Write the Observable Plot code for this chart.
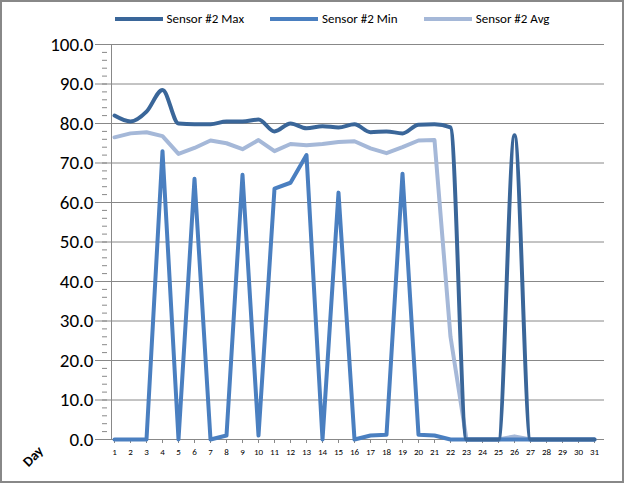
<!DOCTYPE html>
<html><head><meta charset="utf-8">
<script src="https://cdn.jsdelivr.net/npm/d3@7"></script>
<script src="https://cdn.jsdelivr.net/npm/@observablehq/plot@0.6"></script>
<style>
body{margin:0;background:#fff;font-family:Calibri,Carlito,"Liberation Sans",sans-serif;}
#wrap{position:relative;width:620px;height:479px;border:2px solid #888;background:#fff;}
#legend{height:33px;display:flex;justify-content:center;gap:26px;align-items:center;font-size:13px;padding-left:40px}
.it{display:flex;align-items:center;gap:4px}
.sw{width:48px;height:4px}
#day{position:absolute;left:20px;top:446px;transform:rotate(-45deg);font-size:14px;font-weight:bold}
svg{overflow:visible}
</style></head><body>
<div id="wrap"><div id="legend"></div><div id="chart"></div><div id="day">Day</div></div>
<script>
const days = d3.range(1, 32);
const maxV = [82,80.5,83,88.5,80,79.8,79.8,80.5,80.5,81,78,80,78.8,79.3,79,79.8,77.8,78,77.5,79.7,79.8,79,0,0,0,77,0,0,0,0,0];
const minV = [0,0,0,73,0,66,0,1,67,1,63.5,65,72,0,62.5,0,1,1.2,67.3,1.2,1,0,0,0,0,0,0,0,0,0,0];
const avgV = [76.5,77.5,77.8,76.8,72.3,73.8,75.7,75,73.5,75.8,73,74.8,74.5,74.8,75.3,75.5,73.7,72.5,74,75.7,75.8,26,0,0,0,0.8,0,0,0,0,0];
const series = [
  {name:"Sensor #2 Max", vals:maxV, color:"#3a6699", curve:"monotone-x"},
  {name:"Sensor #2 Min", vals:minV, color:"#4a7fc0", curve:"linear"},
  {name:"Sensor #2 Avg", vals:avgV, color:"#a5b8d8", curve:"linear"}
];
d3.select("#legend").selectAll("div").data(series).join("div").attr("class","it")
  .html(s => `<span class="sw" style="background:${s.color}"></span><span>${s.name}</span>`);

const chart = Plot.plot({
  width: 620, height: 446,
  marginLeft: 101, marginRight: 18, marginTop: 9, marginBottom: 42,
  style: {fontFamily: "Calibri,Carlito,'Liberation Sans',sans-serif", background: "#fff", overflow: "visible"},
  x: {type: "point", domain: days, padding: 0.15, label: null},
  y: {domain: [0, 100], label: null},
  marks: [
    Plot.ruleY(d3.range(10, 101, 10), {stroke: "#888", strokeWidth: 1}),
    Plot.axisY({ticks: d3.range(0, 101, 10), tickFormat: d => d.toFixed(1), fontSize: 19, tickSize: 8, stroke: "#888", color: "#000", tickPadding: 2}),
    Plot.axisY({ticks: d3.range(0, 101, 2), tickFormat: () => "", tickSize: 5, stroke: "#888", dx: 4}),
    Plot.ruleX([1], {y1: 0, y2: 100, stroke: "#888", dx: -3}),
    Plot.axisX({fontSize: 9, tickSize: 4, stroke: "#888", color: "#000"}),
    Plot.ruleY([0], {stroke: "#888"}),
    ...series.slice().reverse().map(s => Plot.line(days, {x: d => d, y: (d, i) => s.vals[i], stroke: s.color, strokeWidth: 4, curve: s.curve}))
  ]
});
d3.select("#chart").append(() => chart);
</script></body></html>
